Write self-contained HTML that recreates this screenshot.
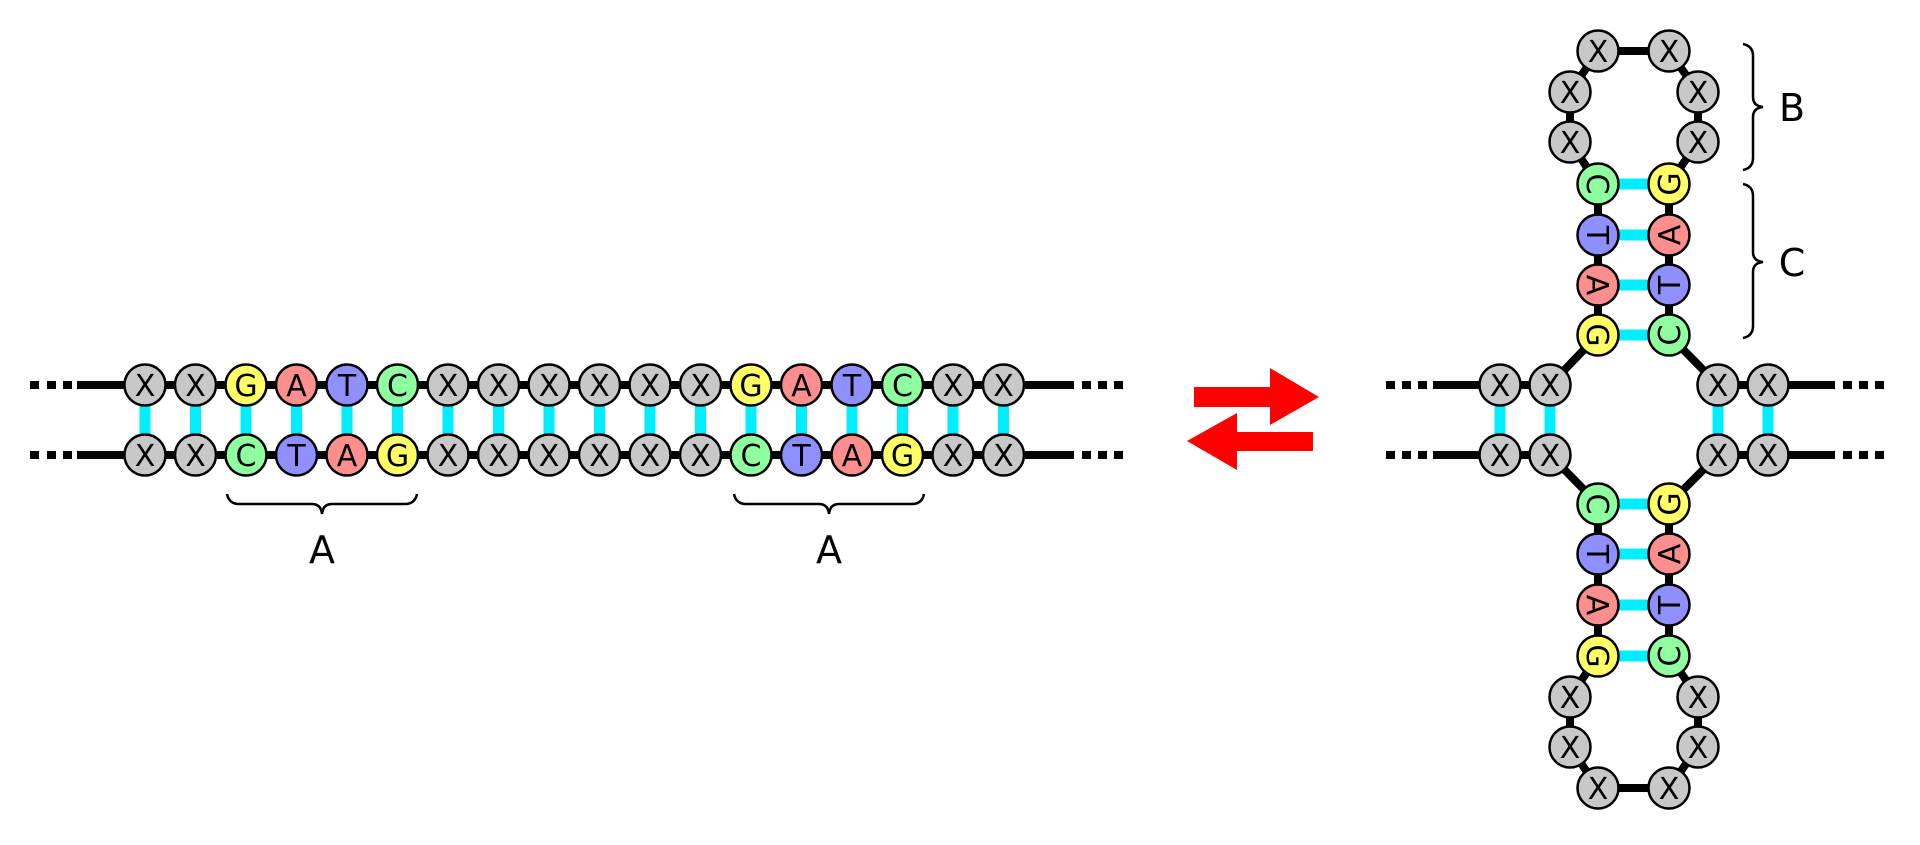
<!DOCTYPE html>
<html><head><meta charset="utf-8"><style>
html,body{margin:0;padding:0;background:#fff;}
svg{display:block;}
text{font-family:"DejaVu Sans","Liberation Sans",sans-serif;}
.n{stroke:#000;stroke-width:2.5;}
.t{font-size:30px;text-anchor:middle;fill:#000;}
.L{font-size:38px;text-anchor:middle;fill:#000;}
.X{fill:#c8c8c8}.G{fill:#ffff66}.A{fill:#ff8f8f}.T{fill:#8f8fff}.C{fill:#8fff9f}
</style></head><body>
<svg width="1920" height="845" viewBox="0 0 1920 845" xmlns="http://www.w3.org/2000/svg">
<g fill="#000">
<rect x="30" y="381" width="9" height="8"/><rect x="47" y="381" width="9" height="8"/><rect x="63" y="381" width="9" height="8"/>
<rect x="30" y="451" width="9" height="8"/><rect x="47" y="451" width="9" height="8"/><rect x="63" y="451" width="9" height="8"/>
<rect x="1082" y="381" width="9" height="8"/><rect x="1098" y="381" width="9" height="8"/><rect x="1114" y="381" width="9" height="8"/>
<rect x="1082" y="451" width="9" height="8"/><rect x="1098" y="451" width="9" height="8"/><rect x="1114" y="451" width="9" height="8"/>
</g>
<line x1="77" y1="385" x2="1074" y2="385" stroke="#000" stroke-width="8"/>
<line x1="77" y1="455" x2="1074" y2="455" stroke="#000" stroke-width="8"/>
<g stroke="#00eeff" stroke-width="11">
<line x1="145" y1="400" x2="145" y2="440"/><line x1="195.5" y1="400" x2="195.5" y2="440"/><line x1="246" y1="400" x2="246" y2="440"/><line x1="296.5" y1="400" x2="296.5" y2="440"/><line x1="347" y1="400" x2="347" y2="440"/><line x1="397.5" y1="400" x2="397.5" y2="440"/><line x1="448" y1="400" x2="448" y2="440"/><line x1="498.5" y1="400" x2="498.5" y2="440"/><line x1="549" y1="400" x2="549" y2="440"/><line x1="599.5" y1="400" x2="599.5" y2="440"/><line x1="650" y1="400" x2="650" y2="440"/><line x1="700.5" y1="400" x2="700.5" y2="440"/><line x1="751" y1="400" x2="751" y2="440"/><line x1="801.5" y1="400" x2="801.5" y2="440"/><line x1="852" y1="400" x2="852" y2="440"/><line x1="902.5" y1="400" x2="902.5" y2="440"/><line x1="953" y1="400" x2="953" y2="440"/><line x1="1003.5" y1="400" x2="1003.5" y2="440"/>
</g>
<g>
<circle class="n X" cx="145" cy="385" r="20.5"/><text class="t" x="145" y="396">X</text>
<circle class="n X" cx="195.5" cy="385" r="20.5"/><text class="t" x="195.5" y="396">X</text>
<circle class="n G" cx="246" cy="385" r="20.5"/><text class="t" x="246" y="396">G</text>
<circle class="n A" cx="296.5" cy="385" r="20.5"/><text class="t" x="296.5" y="396">A</text>
<circle class="n T" cx="347" cy="385" r="20.5"/><text class="t" x="347" y="396">T</text>
<circle class="n C" cx="397.5" cy="385" r="20.5"/><text class="t" x="397.5" y="396">C</text>
<circle class="n X" cx="448" cy="385" r="20.5"/><text class="t" x="448" y="396">X</text>
<circle class="n X" cx="498.5" cy="385" r="20.5"/><text class="t" x="498.5" y="396">X</text>
<circle class="n X" cx="549" cy="385" r="20.5"/><text class="t" x="549" y="396">X</text>
<circle class="n X" cx="599.5" cy="385" r="20.5"/><text class="t" x="599.5" y="396">X</text>
<circle class="n X" cx="650" cy="385" r="20.5"/><text class="t" x="650" y="396">X</text>
<circle class="n X" cx="700.5" cy="385" r="20.5"/><text class="t" x="700.5" y="396">X</text>
<circle class="n G" cx="751" cy="385" r="20.5"/><text class="t" x="751" y="396">G</text>
<circle class="n A" cx="801.5" cy="385" r="20.5"/><text class="t" x="801.5" y="396">A</text>
<circle class="n T" cx="852" cy="385" r="20.5"/><text class="t" x="852" y="396">T</text>
<circle class="n C" cx="902.5" cy="385" r="20.5"/><text class="t" x="902.5" y="396">C</text>
<circle class="n X" cx="953" cy="385" r="20.5"/><text class="t" x="953" y="396">X</text>
<circle class="n X" cx="1003.5" cy="385" r="20.5"/><text class="t" x="1003.5" y="396">X</text>
</g>
<g>
<circle class="n X" cx="145" cy="455" r="20.5"/><text class="t" x="145" y="466">X</text>
<circle class="n X" cx="195.5" cy="455" r="20.5"/><text class="t" x="195.5" y="466">X</text>
<circle class="n C" cx="246" cy="455" r="20.5"/><text class="t" x="246" y="466">C</text>
<circle class="n T" cx="296.5" cy="455" r="20.5"/><text class="t" x="296.5" y="466">T</text>
<circle class="n A" cx="347" cy="455" r="20.5"/><text class="t" x="347" y="466">A</text>
<circle class="n G" cx="397.5" cy="455" r="20.5"/><text class="t" x="397.5" y="466">G</text>
<circle class="n X" cx="448" cy="455" r="20.5"/><text class="t" x="448" y="466">X</text>
<circle class="n X" cx="498.5" cy="455" r="20.5"/><text class="t" x="498.5" y="466">X</text>
<circle class="n X" cx="549" cy="455" r="20.5"/><text class="t" x="549" y="466">X</text>
<circle class="n X" cx="599.5" cy="455" r="20.5"/><text class="t" x="599.5" y="466">X</text>
<circle class="n X" cx="650" cy="455" r="20.5"/><text class="t" x="650" y="466">X</text>
<circle class="n X" cx="700.5" cy="455" r="20.5"/><text class="t" x="700.5" y="466">X</text>
<circle class="n C" cx="751" cy="455" r="20.5"/><text class="t" x="751" y="466">C</text>
<circle class="n T" cx="801.5" cy="455" r="20.5"/><text class="t" x="801.5" y="466">T</text>
<circle class="n A" cx="852" cy="455" r="20.5"/><text class="t" x="852" y="466">A</text>
<circle class="n G" cx="902.5" cy="455" r="20.5"/><text class="t" x="902.5" y="466">G</text>
<circle class="n X" cx="953" cy="455" r="20.5"/><text class="t" x="953" y="466">X</text>
<circle class="n X" cx="1003.5" cy="455" r="20.5"/><text class="t" x="1003.5" y="466">X</text>
</g>
<g fill="none" stroke="#000" stroke-width="2.5">
<path d="M227,494 Q229,504 239,504 L312,504 Q321,504 322,514 Q323,504 332,504 L405,504 Q415,504 417,494"/>
<path d="M734,494 Q736,504 746,504 L819,504 Q828,504 829,514 Q830,504 839,504 L912,504 Q922,504 924,494"/>
</g>
<text class="L" x="322" y="563">A</text>
<text class="L" x="829" y="563">A</text>

<g fill="#ff0000">
<polygon points="1194,387 1270,387 1270,368 1319,397 1270,425 1270,407 1194,407"/>
<polygon points="1313,432 1237,432 1237,413 1187,441 1237,470 1237,451 1313,451"/>
</g>

<g fill="#000">
<rect x="1386" y="381" width="9" height="8"/><rect x="1402" y="381" width="9" height="8"/><rect x="1418" y="381" width="9" height="8"/>
<rect x="1386" y="451" width="9" height="8"/><rect x="1402" y="451" width="9" height="8"/><rect x="1418" y="451" width="9" height="8"/>
<rect x="1843" y="381" width="9" height="8"/><rect x="1859" y="381" width="9" height="8"/><rect x="1875" y="381" width="9" height="8"/>
<rect x="1843" y="451" width="9" height="8"/><rect x="1859" y="451" width="9" height="8"/><rect x="1875" y="451" width="9" height="8"/>
</g>
<g stroke="#000" stroke-width="8" fill="none">
<line x1="1433" y1="385" x2="1550" y2="385"/>
<line x1="1433" y1="455" x2="1550" y2="455"/>
<line x1="1718" y1="385" x2="1835" y2="385"/>
<line x1="1718" y1="455" x2="1835" y2="455"/>
<polyline points="1550,385 1598,335 1598,184 1570,142 1570,92 1598,51 1669,51 1698,92 1698,142 1669,184 1669,335 1718,385"/>
<polyline points="1550,455 1598,504 1598,656 1570,697 1570,747 1598,788 1669,788 1698,747 1698,697 1669,656 1669,504 1718,455"/>
</g>
<g stroke="#00eeff" stroke-width="11">
<line x1="1500" y1="400" x2="1500" y2="440"/><line x1="1550" y1="400" x2="1550" y2="440"/>
<line x1="1718" y1="400" x2="1718" y2="440"/><line x1="1768" y1="400" x2="1768" y2="440"/>
<line x1="1612" y1="184" x2="1655" y2="184"/><line x1="1612" y1="235" x2="1655" y2="235"/><line x1="1612" y1="285" x2="1655" y2="285"/><line x1="1612" y1="335" x2="1655" y2="335"/>
<line x1="1612" y1="504" x2="1655" y2="504"/><line x1="1612" y1="554" x2="1655" y2="554"/><line x1="1612" y1="605" x2="1655" y2="605"/><line x1="1612" y1="656" x2="1655" y2="656"/>
</g>
<g>
<circle class="n X" cx="1500" cy="385" r="20.5"/><text class="t" x="1500" y="396">X</text>
<circle class="n X" cx="1550" cy="385" r="20.5"/><text class="t" x="1550" y="396">X</text>
<circle class="n X" cx="1500" cy="455" r="20.5"/><text class="t" x="1500" y="466">X</text>
<circle class="n X" cx="1550" cy="455" r="20.5"/><text class="t" x="1550" y="466">X</text>
<circle class="n X" cx="1718" cy="385" r="20.5"/><text class="t" x="1718" y="396">X</text>
<circle class="n X" cx="1768" cy="385" r="20.5"/><text class="t" x="1768" y="396">X</text>
<circle class="n X" cx="1718" cy="455" r="20.5"/><text class="t" x="1718" y="466">X</text>
<circle class="n X" cx="1768" cy="455" r="20.5"/><text class="t" x="1768" y="466">X</text>
<circle class="n X" cx="1598" cy="51" r="20.5"/><text class="t" x="1598" y="62">X</text>
<circle class="n X" cx="1669" cy="51" r="20.5"/><text class="t" x="1669" y="62">X</text>
<circle class="n X" cx="1570" cy="92" r="20.5"/><text class="t" x="1570" y="103">X</text>
<circle class="n X" cx="1570" cy="142" r="20.5"/><text class="t" x="1570" y="153">X</text>
<circle class="n X" cx="1698" cy="92" r="20.5"/><text class="t" x="1698" y="103">X</text>
<circle class="n X" cx="1698" cy="142" r="20.5"/><text class="t" x="1698" y="153">X</text>
<circle class="n C" cx="1598" cy="184" r="20.5"/><text class="t" x="1598" y="195" transform="rotate(90 1598 184)">C</text>
<circle class="n T" cx="1598" cy="235" r="20.5"/><text class="t" x="1598" y="246" transform="rotate(90 1598 235)">T</text>
<circle class="n A" cx="1598" cy="285" r="20.5"/><text class="t" x="1598" y="296" transform="rotate(90 1598 285)">A</text>
<circle class="n G" cx="1598" cy="335" r="20.5"/><text class="t" x="1598" y="346" transform="rotate(90 1598 335)">G</text>
<circle class="n G" cx="1669" cy="184" r="20.5"/><text class="t" x="1669" y="195" transform="rotate(-90 1669 184)">G</text>
<circle class="n A" cx="1669" cy="235" r="20.5"/><text class="t" x="1669" y="246" transform="rotate(-90 1669 235)">A</text>
<circle class="n T" cx="1669" cy="285" r="20.5"/><text class="t" x="1669" y="296" transform="rotate(-90 1669 285)">T</text>
<circle class="n C" cx="1669" cy="335" r="20.5"/><text class="t" x="1669" y="346" transform="rotate(-90 1669 335)">C</text>
<circle class="n C" cx="1598" cy="504" r="20.5"/><text class="t" x="1598" y="515" transform="rotate(90 1598 504)">C</text>
<circle class="n T" cx="1598" cy="554" r="20.5"/><text class="t" x="1598" y="565" transform="rotate(90 1598 554)">T</text>
<circle class="n A" cx="1598" cy="605" r="20.5"/><text class="t" x="1598" y="616" transform="rotate(90 1598 605)">A</text>
<circle class="n G" cx="1598" cy="656" r="20.5"/><text class="t" x="1598" y="667" transform="rotate(90 1598 656)">G</text>
<circle class="n G" cx="1669" cy="504" r="20.5"/><text class="t" x="1669" y="515" transform="rotate(-90 1669 504)">G</text>
<circle class="n A" cx="1669" cy="554" r="20.5"/><text class="t" x="1669" y="565" transform="rotate(-90 1669 554)">A</text>
<circle class="n T" cx="1669" cy="605" r="20.5"/><text class="t" x="1669" y="616" transform="rotate(-90 1669 605)">T</text>
<circle class="n C" cx="1669" cy="656" r="20.5"/><text class="t" x="1669" y="667" transform="rotate(-90 1669 656)">C</text>
<circle class="n X" cx="1570" cy="697" r="20.5"/><text class="t" x="1570" y="708">X</text>
<circle class="n X" cx="1570" cy="747" r="20.5"/><text class="t" x="1570" y="758">X</text>
<circle class="n X" cx="1598" cy="788" r="20.5"/><text class="t" x="1598" y="799">X</text>
<circle class="n X" cx="1669" cy="788" r="20.5"/><text class="t" x="1669" y="799">X</text>
<circle class="n X" cx="1698" cy="697" r="20.5"/><text class="t" x="1698" y="708">X</text>
<circle class="n X" cx="1698" cy="747" r="20.5"/><text class="t" x="1698" y="758">X</text>
</g>
<g fill="none" stroke="#000" stroke-width="2.5">
<path d="M1743,44 Q1753,46 1753,56 L1753,97 Q1753,106 1763,107 Q1753,108 1753,117 L1753,158 Q1753,168 1743,170"/>
<path d="M1743,184 Q1753,186 1753,196 L1753,252 Q1753,261 1763,262 Q1753,263 1753,272 L1753,326 Q1753,336 1743,338"/>
</g>
<text class="L" x="1792" y="121">B</text>
<text class="L" x="1792" y="276">C</text>
</svg>
</body></html>
